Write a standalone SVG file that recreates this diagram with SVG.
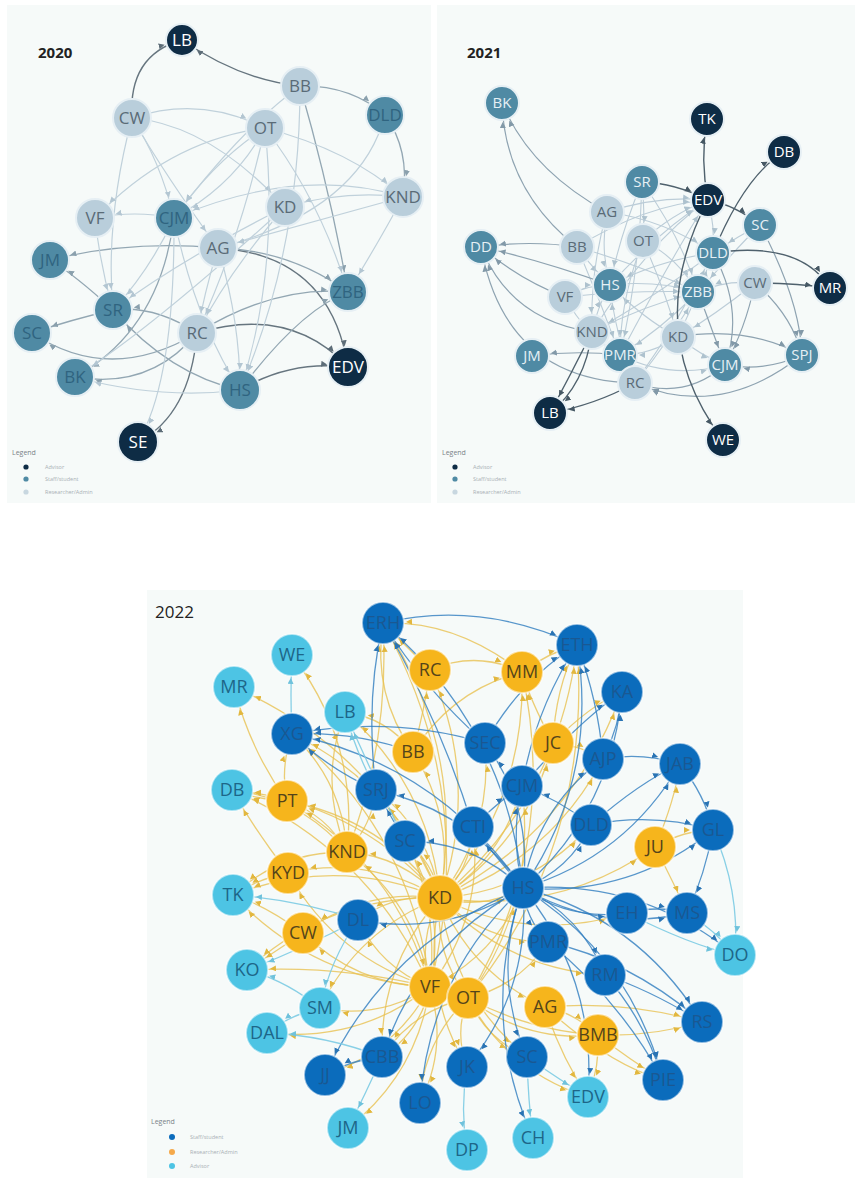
<svg xmlns="http://www.w3.org/2000/svg" width="856" height="1179" viewBox="0 0 856 1179">
<style>
.pn{fill:#f6faf9}
.yr{font-family:"Open Sans","Liberation Sans",sans-serif;fill:#222}
.lg{font-family:"Open Sans","Liberation Sans",sans-serif;font-size:7px;fill:#7a8288}
.li{font-family:"Open Sans","Liberation Sans",sans-serif;font-size:5.5px;fill:#a9b0b5}
.e20d{fill:none;stroke:#66757f;stroke-width:1.4;marker-end:url(#a20d)}
.e20s{fill:none;stroke:#66757f;stroke-width:1.4;marker-end:url(#a20s)}
.e20m{fill:none;stroke:#93a7b3;stroke-width:1.3;marker-end:url(#a20m)}
.e20l{fill:none;stroke:#c0d1db;stroke-width:1.2;marker-end:url(#a20l)}
.e21d{fill:none;stroke:#4f616d;stroke-width:1.4;marker-end:url(#a21d)}
.e21m{fill:none;stroke:#8ea3b1;stroke-width:1.2;marker-end:url(#a21m)}
.e21l{fill:none;stroke:#bccdd8;stroke-width:1.1;marker-end:url(#a21l)}
.e22y{fill:none;stroke:#e8c252;stroke-width:1.3;stroke-opacity:.8;marker-end:url(#a22y)}
.e22b{fill:none;stroke:#2f7dbf;stroke-width:1.3;stroke-opacity:.8;marker-end:url(#a22b)}
.e22c{fill:none;stroke:#7ccbe3;stroke-width:1.3;stroke-opacity:.9;marker-end:url(#a22c)}
.n20 circle,.n21 circle{stroke:#e6eff4;stroke-width:2}
.n20 text{font-family:"Open Sans","Liberation Sans",sans-serif;font-size:17px;text-anchor:middle}
.n21 text{font-family:"Open Sans","Liberation Sans",sans-serif;font-size:15px;text-anchor:middle}
.n22 circle{stroke:#ffffff;stroke-opacity:.55;stroke-width:2}
.n22 text{font-family:"Open Sans","Liberation Sans",sans-serif;font-size:18px;text-anchor:middle}
.adv circle{fill:#0e2c45}.adv text{fill:#ffffff}
.stf circle{fill:#4f8aa4}.stf text{fill:#2f6480}
.res circle{fill:#b9cedb}.res text{fill:#5a6b77}
.n21.stf text{fill:#e6f0f5}
.b22 circle{fill:#0b6cbc}.b22 text{fill:#1a5892}
.y22 circle{fill:#f6b51c}.y22 text{fill:#54441a}
.c22 circle{fill:#4dc4e4}.c22 text{fill:#1d6688}
</style>
<defs>
<marker id="a20d" markerUnits="userSpaceOnUse" markerWidth="7" markerHeight="7" refX="27" refY="3" orient="auto"><path d="M0,0L6,3L0,6z" fill="#5d6d78"/></marker>
<marker id="a20s" markerUnits="userSpaceOnUse" markerWidth="7" markerHeight="7" refX="24" refY="3" orient="auto"><path d="M0,0L6,3L0,6z" fill="#5d6d78"/></marker>
<marker id="a20m" markerUnits="userSpaceOnUse" markerWidth="7" markerHeight="7" refX="27" refY="3" orient="auto"><path d="M0,0L6,3L0,6z" fill="#8aa0ad"/></marker>
<marker id="a20l" markerUnits="userSpaceOnUse" markerWidth="7" markerHeight="7" refX="27" refY="3" orient="auto"><path d="M0,0L6,3L0,6z" fill="#b3c6d2"/></marker>
<marker id="a21d" markerUnits="userSpaceOnUse" markerWidth="7" markerHeight="7" refX="25" refY="3" orient="auto"><path d="M0,0L6,3L0,6z" fill="#465864"/></marker>
<marker id="a21m" markerUnits="userSpaceOnUse" markerWidth="7" markerHeight="7" refX="25" refY="3" orient="auto"><path d="M0,0L6,3L0,6z" fill="#8299a8"/></marker>
<marker id="a21l" markerUnits="userSpaceOnUse" markerWidth="7" markerHeight="7" refX="25" refY="3" orient="auto"><path d="M0,0L6,3L0,6z" fill="#aec2ce"/></marker>
<marker id="a22y" markerUnits="userSpaceOnUse" markerWidth="7" markerHeight="7" refX="29" refY="3" orient="auto"><path d="M0,0L6,3L0,6z" fill="#e2b73e"/></marker>
<marker id="a22b" markerUnits="userSpaceOnUse" markerWidth="7" markerHeight="7" refX="29" refY="3" orient="auto"><path d="M0,0L6,3L0,6z" fill="#2a74b4"/></marker>
<marker id="a22c" markerUnits="userSpaceOnUse" markerWidth="7" markerHeight="7" refX="29" refY="3" orient="auto"><path d="M0,0L6,3L0,6z" fill="#6fc2dc"/></marker>
</defs>
<rect width="856" height="1179" fill="#ffffff"/>
<rect class="pn" x="7" y="5" width="424" height="498"/>
<rect class="pn" x="437" y="5" width="418" height="498"/>
<rect class="pn" x="147" y="590" width="596" height="588"/>
<text class="yr" x="38" y="58" font-size="15" font-weight="bold">2020</text>
<text class="yr" x="467" y="58" font-size="15" font-weight="bold">2021</text>
<text class="yr" x="155" y="618" font-size="17">2022</text>

<g id="connectors">
<g id="edges-2020">
<g class="e20s">
<path d="M132 118Q128 55 182 40"/>
<path d="M300 86Q240 80 182 40"/>
</g>
<g class="e20d">
<path d="M218 248Q330 255 348 367"/>
<path d="M197 333Q290 305 348 367"/>
<path d="M240 390Q290 360 348 367"/>
<path d="M197 333Q190 415 138 442"/>
</g>
<g class="e20m">
<path d="M197 333Q155 305 113 310"/>
<path d="M197 333Q110 385 32 333"/>
<path d="M197 333Q150 390 75 377"/>
<path d="M240 390Q170 375 113 310"/>
<path d="M113 310Q75 275 50 260"/>
<path d="M113 310Q70 320 32 333"/>
<path d="M218 248Q130 240 50 260"/>
<path d="M174 218Q160 330 75 377"/>
<path d="M300 86Q350 85 385 115"/>
<path d="M385 115Q410 150 403 197"/>
<path d="M240 390Q300 310 348 292"/>
<path d="M197 333Q275 285 348 292"/>
<path d="M218 248Q290 250 348 292"/>
<path d="M300 86Q330 190 348 292"/>
</g>
<g class="e20l">
<path d="M132 118Q160 160 174 218"/>
<path d="M265 128Q215 160 174 218"/>
<path d="M265 128Q235 185 174 218"/>
<path d="M403 197Q300 165 174 218"/>
<path d="M132 118Q200 95 265 128"/>
<path d="M132 118Q210 125 285 207"/>
<path d="M132 118Q105 220 113 310"/>
<path d="M132 118Q165 175 218 248"/>
<path d="M174 218Q135 210 95 218"/>
<path d="M265 128Q170 140 95 218"/>
<path d="M403 197Q345 190 285 207"/>
<path d="M385 115Q360 210 218 248"/>
<path d="M265 128Q240 240 197 333"/>
<path d="M285 207Q230 270 197 333"/>
<path d="M218 248Q205 290 197 333"/>
<path d="M218 248Q240 320 240 390"/>
<path d="M174 218Q195 320 240 390"/>
<path d="M265 128Q280 270 240 390"/>
<path d="M174 218Q150 270 113 310"/>
<path d="M285 207Q180 260 113 310"/>
<path d="M95 218Q100 265 113 310"/>
<path d="M174 218Q175 380 138 442"/>
<path d="M300 86Q240 130 174 218"/>
<path d="M265 128Q350 150 403 197"/>
<path d="M285 207Q150 330 75 377"/>
<path d="M265 128Q320 200 348 292"/>
<path d="M403 197Q380 240 348 292"/>
<path d="M403 197Q320 220 218 248"/>
<path d="M240 390Q160 400 75 377"/>
<path d="M300 86Q300 250 240 390"/>
</g>
</g>
<g id="edges-2021">
<g class="e21l">
<path d="M607 212Q660 195 708 200"/>
<path d="M643 241Q670 215 708 200"/>
<path d="M577 247Q645 205 708 200"/>
<path d="M610 285Q660 230 708 200"/>
<path d="M592 332Q650 240 708 200"/>
<path d="M620 355Q670 260 708 200"/>
<path d="M642 182Q620 235 610 285"/>
<path d="M642 182Q640 270 620 355"/>
<path d="M642 182Q645 210 643 241"/>
<path d="M643 241Q675 255 698 292"/>
<path d="M610 285Q655 280 698 292"/>
<path d="M678 337Q645 320 610 285"/>
<path d="M678 337Q650 355 620 355"/>
<path d="M698 292Q660 330 620 355"/>
<path d="M713 253Q660 260 610 285"/>
<path d="M713 253Q650 300 592 332"/>
<path d="M760 225Q735 250 698 292"/>
<path d="M760 225Q740 235 713 253"/>
<path d="M755 283Q725 280 698 292"/>
<path d="M755 283Q715 315 678 337"/>
<path d="M565 297Q585 285 610 285"/>
<path d="M577 247Q590 265 610 285"/>
<path d="M607 212Q600 250 610 285"/>
<path d="M643 241Q620 300 620 355"/>
<path d="M592 332Q598 305 610 285"/>
<path d="M635 383Q615 335 610 285"/>
<path d="M565 297Q585 335 620 355"/>
<path d="M592 332Q645 305 698 292"/>
<path d="M607 212Q665 220 713 253"/>
<path d="M577 247Q640 265 698 292"/>
<path d="M643 241Q665 290 678 337"/>
<path d="M635 383Q670 340 698 292"/>
<path d="M635 383Q680 320 713 253"/>
<path d="M565 297Q635 290 698 292"/>
<path d="M642 182Q680 235 698 292"/>
<path d="M607 212Q590 270 592 332"/>
<path d="M577 247Q600 300 620 355"/>
<path d="M708 200Q715 225 713 253"/>
<path d="M678 337Q700 290 713 253"/>
<path d="M620 355Q670 380 725 365"/>
<path d="M678 337Q700 355 725 365"/>
</g>
<g class="e21m">
<path d="M802 355Q765 372 725 365"/>
<path d="M698 292Q712 330 725 365"/>
<path d="M713 253Q745 310 725 365"/>
<path d="M755 283Q792 315 802 355"/>
<path d="M678 337Q745 325 802 355"/>
<path d="M755 283Q745 330 725 365"/>
<path d="M620 355Q575 350 532 356"/>
<path d="M607 212Q530 170 502 103"/>
<path d="M577 247Q505 190 502 103"/>
<path d="M577 247Q530 240 481 247"/>
<path d="M565 297Q520 280 481 247"/>
<path d="M592 332Q510 320 481 247"/>
<path d="M610 285Q540 260 481 247"/>
<path d="M635 383Q505 380 481 247"/>
<path d="M802 355Q720 420 635 383"/>
<path d="M725 365Q685 400 635 383"/>
<path d="M760 225Q800 300 802 355"/>
</g>
<g class="e21d">
<path d="M708 200Q700 160 707 119"/>
<path d="M713 253Q745 175 784 152"/>
<path d="M592 332Q585 385 550 413"/>
<path d="M592 332Q572 372 550 413"/>
<path d="M635 383Q595 405 550 413"/>
<path d="M708 200Q640 330 723 440"/>
<path d="M642 182Q675 183 708 200"/>
<path d="M755 283Q795 283 830 288"/>
<path d="M713 253Q800 240 830 288"/>
<path d="M708 200Q735 205 760 225"/>
</g>
</g>
<g id="edges-2022">
<g class="e22y">
<path d="M440 898Q466 749 383 623"/>
<path d="M440 898Q481 782 430 670"/>
<path d="M440 898Q526 801 522 672"/>
<path d="M440 898Q456 820 413 752"/>
<path d="M440 898Q399 786 292 734"/>
<path d="M440 898Q383 819 287 801"/>
<path d="M440 898Q403 856 347 852"/>
<path d="M440 898Q369 855 288 873"/>
<path d="M440 898Q337 855 233 895"/>
<path d="M440 898Q364 888 303 933"/>
<path d="M440 898Q395 893 358 920"/>
<path d="M440 898Q329 895 247 970"/>
<path d="M440 898Q358 929 320 1008"/>
<path d="M440 898Q434 862 405 841"/>
<path d="M440 898Q430 831 376 790"/>
<path d="M440 898Q471 869 473 827"/>
<path d="M440 898Q493 829 485 743"/>
<path d="M440 898Q527 843 553 743"/>
<path d="M440 898Q503 858 522 786"/>
<path d="M440 898Q530 892 591 825"/>
<path d="M440 898Q558 915 655 847"/>
<path d="M440 898Q483 910 523 888"/>
<path d="M440 898Q530 943 627 913"/>
<path d="M440 898Q485 942 548 942"/>
<path d="M440 898Q507 969 605 975"/>
<path d="M440 898Q471 973 545 1007"/>
<path d="M440 898Q417 940 430 987"/>
<path d="M440 898Q434 954 468 998"/>
<path d="M440 898Q379 966 382 1057"/>
<path d="M440 898Q420 988 467 1067"/>
<path d="M440 898Q430 786 345 712"/>
<path d="M440 898Q559 799 577 645"/>
<path d="M440 898Q358 802 232 790"/>
<path d="M440 898Q379 751 234 687"/>
<path d="M440 898Q572 831 622 692"/>
<path d="M440 898Q549 861 603 759"/>
<path d="M440 898Q452 995 527 1057"/>
<path d="M430 987Q313 980 233 895"/>
<path d="M430 987Q338 965 247 970"/>
<path d="M430 987Q379 1020 320 1008"/>
<path d="M430 987Q358 1043 267 1033"/>
<path d="M430 987Q356 985 303 933"/>
<path d="M430 987Q336 958 288 873"/>
<path d="M430 987Q381 968 358 920"/>
<path d="M430 987Q420 1032 382 1057"/>
<path d="M430 987Q395 1052 325 1075"/>
<path d="M430 987Q448 1047 420 1103"/>
<path d="M430 987Q417 1074 348 1128"/>
<path d="M430 987Q370 849 232 790"/>
<path d="M430 987Q396 865 287 801"/>
<path d="M430 987Q416 903 347 852"/>
<path d="M430 987Q442 878 376 790"/>
<path d="M430 987Q412 833 292 734"/>
<path d="M430 987Q479 796 383 623"/>
<path d="M430 987Q496 956 523 888"/>
<path d="M430 987Q484 916 473 827"/>
<path d="M430 987Q447 909 405 841"/>
<path d="M468 998Q454 1032 467 1067"/>
<path d="M468 998Q486 1039 527 1057"/>
<path d="M468 998Q423 1041 420 1103"/>
<path d="M468 998Q508 1072 588 1097"/>
<path d="M468 998Q413 1010 382 1057"/>
<path d="M468 998Q526 1043 598 1035"/>
<path d="M468 998Q519 986 548 942"/>
<path d="M468 998Q537 903 522 786"/>
<path d="M468 998Q560 846 522 672"/>
<path d="M468 998Q593 843 577 645"/>
<path d="M468 998Q580 1057 702 1022"/>
<path d="M347 852Q343 782 292 734"/>
<path d="M347 852Q327 815 287 801"/>
<path d="M347 852Q318 782 345 712"/>
<path d="M347 852Q390 742 383 623"/>
<path d="M347 852Q302 798 232 790"/>
<path d="M347 852Q281 851 233 895"/>
<path d="M347 852Q359 743 292 655"/>
<path d="M347 852Q372 825 376 790"/>
<path d="M413 752Q372 694 383 623"/>
<path d="M413 752Q425 708 430 670"/>
<path d="M413 752Q452 690 522 672"/>
<path d="M413 752Q387 718 345 712"/>
<path d="M430 670Q476 650 522 672"/>
<path d="M430 670Q405 645 383 623"/>
<path d="M553 743Q590 705 622 692"/>
<path d="M553 743Q555 690 577 645"/>
<path d="M553 743Q530 700 522 672"/>
<path d="M553 743Q580 745 603 759"/>
<path d="M545 1007Q560 1055 588 1097"/>
<path d="M545 1007Q573 1012 598 1035"/>
<path d="M545 1007Q610 1065 663 1080"/>
<path d="M545 1007Q625 1000 702 1022"/>
<path d="M598 1035Q600 1066 588 1097"/>
<path d="M598 1035Q630 1060 663 1080"/>
<path d="M655 847Q684 830 713 830"/>
<path d="M655 847Q675 800 680 764"/>
<path d="M655 847Q675 885 687 913"/>
<path d="M287 801Q280 768 292 734"/>
<path d="M287 801Q258 800 232 790"/>
<path d="M287 801Q250 750 234 687"/>
<path d="M288 873Q260 878 233 895"/>
<path d="M288 873Q255 830 232 790"/>
<path d="M303 933Q265 905 233 895"/>
<path d="M303 933Q270 955 247 970"/>
<path d="M522 672Q550 652 577 645"/>
<path d="M522 672Q455 620 383 623"/>
</g>
<g class="e22b">
<path d="M413 752Q354 731 292 734"/>
<path d="M523 888Q599 777 577 645"/>
<path d="M523 888Q612 810 622 692"/>
<path d="M523 888Q626 857 680 764"/>
<path d="M523 888Q630 897 713 830"/>
<path d="M523 888Q600 933 687 913"/>
<path d="M523 888Q570 921 627 913"/>
<path d="M523 888Q525 918 548 942"/>
<path d="M523 888Q581 915 605 975"/>
<path d="M523 888Q639 919 702 1022"/>
<path d="M523 888Q631 956 663 1080"/>
<path d="M523 888Q642 879 735 955"/>
<path d="M523 888Q570 870 591 825"/>
<path d="M523 888Q537 807 603 759"/>
<path d="M523 888Q510 837 522 786"/>
<path d="M523 888Q533 808 485 743"/>
<path d="M523 888Q490 850 473 827"/>
<path d="M523 888Q473 841 405 841"/>
<path d="M523 888Q469 810 376 790"/>
<path d="M523 888Q438 765 292 734"/>
<path d="M523 888Q506 728 383 623"/>
<path d="M523 888Q447 937 358 920"/>
<path d="M523 888Q419 944 382 1057"/>
<path d="M523 888Q531 989 467 1067"/>
<path d="M523 888Q491 973 527 1057"/>
<path d="M523 888Q429 975 420 1103"/>
<path d="M523 888Q387 942 325 1075"/>
<path d="M523 888Q597 980 588 1097"/>
<path d="M523 888Q478 1015 533 1138"/>
<path d="M591 825Q652 812 713 830"/>
<path d="M591 825Q640 782 680 764"/>
<path d="M603 759Q642 752 680 764"/>
<path d="M603 759Q620 725 622 692"/>
<path d="M603 759Q598 700 577 645"/>
<path d="M522 786Q535 710 577 645"/>
<path d="M522 786Q580 720 622 692"/>
<path d="M485 743Q520 680 577 645"/>
<path d="M485 743Q425 690 383 623"/>
<path d="M485 743Q390 715 292 734"/>
<path d="M376 790Q330 770 292 734"/>
<path d="M376 790Q365 700 383 623"/>
<path d="M473 827Q440 720 383 623"/>
<path d="M383 623Q480 600 577 645"/>
<path d="M680 764Q705 795 713 830"/>
<path d="M713 830Q705 875 687 913"/>
<path d="M627 913Q657 905 687 913"/>
<path d="M548 942Q630 960 702 1022"/>
<path d="M548 942Q620 1000 663 1080"/>
<path d="M605 975Q645 1020 663 1080"/>
<path d="M605 975Q650 990 702 1022"/>
<path d="M382 1057Q350 1060 325 1075"/>
<path d="M405 841Q390 815 376 790"/>
<path d="M591 825Q560 800 522 786"/>
<path d="M473 827Q500 800 522 786"/>
</g>
<g class="e22c">
<path d="M292 734Q290 695 292 655"/>
<path d="M376 790Q355 750 345 712"/>
<path d="M405 841Q370 770 345 712"/>
<path d="M627 913Q690 945 735 955"/>
<path d="M687 913Q715 930 735 955"/>
<path d="M713 830Q740 890 735 955"/>
<path d="M320 1008Q285 980 247 970"/>
<path d="M320 1008Q290 1015 267 1033"/>
<path d="M382 1057Q325 1035 267 1033"/>
<path d="M382 1057Q365 1095 348 1128"/>
<path d="M467 1067Q460 1110 467 1150"/>
<path d="M527 1057Q528 1100 533 1138"/>
<path d="M527 1057Q560 1080 588 1097"/>
<path d="M358 920Q300 900 233 895"/>
<path d="M358 920Q300 950 247 970"/>
<path d="M358 920Q330 960 320 1008"/>
</g>
</g>
</g>

<g id="nodes-2020">
<g id="n20-BB" class="n20 res"><circle cx="300" cy="86" r="19"/><text x="300" y="92">BB</text></g>
<g id="n20-CW" class="n20 res"><circle cx="132" cy="118" r="19"/><text x="132" y="124">CW</text></g>
<g id="n20-OT" class="n20 res"><circle cx="265" cy="128" r="19"/><text x="265" y="134">OT</text></g>
<g id="n20-KND" class="n20 res"><circle cx="403" cy="197" r="20"/><text x="403" y="203">KND</text></g>
<g id="n20-KD" class="n20 res"><circle cx="285" cy="207" r="19"/><text x="285" y="213">KD</text></g>
<g id="n20-VF" class="n20 res"><circle cx="95" cy="218" r="19"/><text x="95" y="224">VF</text></g>
<g id="n20-AG" class="n20 res"><circle cx="218" cy="248" r="19"/><text x="218" y="254">AG</text></g>
<g id="n20-RC" class="n20 res"><circle cx="197" cy="333" r="19"/><text x="197" y="339">RC</text></g>
<g id="n20-DLD" class="n20 stf"><circle cx="385" cy="115" r="19"/><text x="385" y="121">DLD</text></g>
<g id="n20-CJM" class="n20 stf"><circle cx="174" cy="218" r="19"/><text x="174" y="224">CJM</text></g>
<g id="n20-JM" class="n20 stf"><circle cx="50" cy="260" r="19"/><text x="50" y="266">JM</text></g>
<g id="n20-ZBB" class="n20 stf"><circle cx="348" cy="292" r="19"/><text x="348" y="298">ZBB</text></g>
<g id="n20-SR" class="n20 stf"><circle cx="113" cy="310" r="19"/><text x="113" y="316">SR</text></g>
<g id="n20-SC" class="n20 stf"><circle cx="32" cy="333" r="19"/><text x="32" y="339">SC</text></g>
<g id="n20-BK" class="n20 stf"><circle cx="75" cy="377" r="19"/><text x="75" y="383">BK</text></g>
<g id="n20-HS" class="n20 stf"><circle cx="240" cy="390" r="20"/><text x="240" y="396">HS</text></g>
<g id="n20-LB" class="n20 adv"><circle cx="182" cy="40" r="16"/><text x="182" y="46">LB</text></g>
<g id="n20-EDV" class="n20 adv"><circle cx="348" cy="367" r="20"/><text x="348" y="373">EDV</text></g>
<g id="n20-SE" class="n20 adv"><circle cx="138" cy="442" r="20"/><text x="138" y="448">SE</text></g>
</g>
<g id="legend-2020">
<text class="lg" x="12" y="455">Legend</text>
<circle cx="26" cy="467" r="2.6" fill="#0e2c45"/><text class="li" x="45" y="469">Advisor</text>
<circle cx="26" cy="479" r="2.6" fill="#4f8aa4"/><text class="li" x="45" y="481">Staff/student</text>
<circle cx="26" cy="492" r="2.6" fill="#c8d7e0"/><text class="li" x="45" y="494">Researcher/Admin</text>
</g>

<g id="nodes-2021">
<g id="n21-AG" class="n21 res"><circle cx="607" cy="212" r="17"/><text x="607" y="217">AG</text></g>
<g id="n21-OT" class="n21 res"><circle cx="643" cy="241" r="17"/><text x="643" y="246">OT</text></g>
<g id="n21-BB" class="n21 res"><circle cx="577" cy="247" r="17"/><text x="577" y="252">BB</text></g>
<g id="n21-CW" class="n21 res"><circle cx="755" cy="283" r="17"/><text x="755" y="288">CW</text></g>
<g id="n21-VF" class="n21 res"><circle cx="565" cy="297" r="17"/><text x="565" y="302">VF</text></g>
<g id="n21-KND" class="n21 res"><circle cx="592" cy="332" r="17"/><text x="592" y="337">KND</text></g>
<g id="n21-KD" class="n21 res"><circle cx="678" cy="337" r="17"/><text x="678" y="342">KD</text></g>
<g id="n21-BK" class="n21 stf"><circle cx="502" cy="103" r="17"/><text x="502" y="108">BK</text></g>
<g id="n21-SR" class="n21 stf"><circle cx="642" cy="182" r="17"/><text x="642" y="187">SR</text></g>
<g id="n21-SC" class="n21 stf"><circle cx="760" cy="225" r="17"/><text x="760" y="230">SC</text></g>
<g id="n21-DD" class="n21 stf"><circle cx="481" cy="247" r="17"/><text x="481" y="252">DD</text></g>
<g id="n21-DLD" class="n21 stf"><circle cx="713" cy="253" r="17"/><text x="713" y="258">DLD</text></g>
<g id="n21-HS" class="n21 stf"><circle cx="610" cy="285" r="17"/><text x="610" y="290">HS</text></g>
<g id="n21-ZBB" class="n21 stf"><circle cx="698" cy="292" r="17"/><text x="698" y="297">ZBB</text></g>
<g id="n21-JM" class="n21 stf"><circle cx="532" cy="356" r="17"/><text x="532" y="361">JM</text></g>
<g id="n21-PMR" class="n21 stf"><circle cx="620" cy="355" r="17"/><text x="620" y="360">PMR</text></g>
<g id="n21-CJM" class="n21 stf"><circle cx="725" cy="365" r="17"/><text x="725" y="370">CJM</text></g>
<g id="n21-SPJ" class="n21 stf"><circle cx="802" cy="355" r="17"/><text x="802" y="360">SPJ</text></g>
<g id="n21-RC" class="n21 res"><circle cx="635" cy="383" r="17"/><text x="635" y="388">RC</text></g>
<g id="n21-TK" class="n21 adv"><circle cx="707" cy="119" r="17"/><text x="707" y="124">TK</text></g>
<g id="n21-DB" class="n21 adv"><circle cx="784" cy="152" r="17"/><text x="784" y="157">DB</text></g>
<g id="n21-EDV" class="n21 adv"><circle cx="708" cy="200" r="17"/><text x="708" y="205">EDV</text></g>
<g id="n21-MR" class="n21 adv"><circle cx="830" cy="288" r="17"/><text x="830" y="293">MR</text></g>
<g id="n21-LB" class="n21 adv"><circle cx="550" cy="413" r="17"/><text x="550" y="418">LB</text></g>
<g id="n21-WE" class="n21 adv"><circle cx="723" cy="440" r="17"/><text x="723" y="445">WE</text></g>
</g>
<g id="legend-2021">
<text class="lg" x="442" y="455">Legend</text>
<circle cx="455" cy="467" r="2.6" fill="#0e2c45"/><text class="li" x="473" y="469">Advisor</text>
<circle cx="455" cy="479" r="2.6" fill="#4f8aa4"/><text class="li" x="473" y="481">Staff/student</text>
<circle cx="455" cy="492" r="2.6" fill="#c8d7e0"/><text class="li" x="473" y="494">Researcher/Admin</text>
</g>

<g id="nodes-2022">
<g id="n22-ERH" class="n22 b22"><circle cx="383" cy="623" r="21"/><text x="383" y="629">ERH</text></g>
<g id="n22-WE" class="n22 c22"><circle cx="292" cy="655" r="21"/><text x="292" y="661">WE</text></g>
<g id="n22-MR" class="n22 c22"><circle cx="234" cy="687" r="21"/><text x="234" y="693">MR</text></g>
<g id="n22-RC" class="n22 y22"><circle cx="430" cy="670" r="21"/><text x="430" y="676">RC</text></g>
<g id="n22-LB" class="n22 c22"><circle cx="345" cy="712" r="21"/><text x="345" y="718">LB</text></g>
<g id="n22-XG" class="n22 b22"><circle cx="292" cy="734" r="21"/><text x="292" y="740">XG</text></g>
<g id="n22-BB" class="n22 y22"><circle cx="413" cy="752" r="21"/><text x="413" y="758">BB</text></g>
<g id="n22-DB" class="n22 c22"><circle cx="232" cy="790" r="21"/><text x="232" y="796">DB</text></g>
<g id="n22-PT" class="n22 y22"><circle cx="287" cy="801" r="21"/><text x="287" y="807">PT</text></g>
<g id="n22-SRJ" class="n22 b22"><circle cx="376" cy="790" r="21"/><text x="376" y="796">SRJ</text></g>
<g id="n22-SC1" class="n22 b22"><circle cx="405" cy="841" r="21"/><text x="405" y="847">SC</text></g>
<g id="n22-KND" class="n22 y22"><circle cx="347" cy="852" r="21"/><text x="347" y="858">KND</text></g>
<g id="n22-KYD" class="n22 y22"><circle cx="288" cy="873" r="21"/><text x="288" y="879">KYD</text></g>
<g id="n22-ETH" class="n22 b22"><circle cx="577" cy="645" r="21"/><text x="577" y="651">ETH</text></g>
<g id="n22-MM" class="n22 y22"><circle cx="522" cy="672" r="21"/><text x="522" y="678">MM</text></g>
<g id="n22-KA" class="n22 b22"><circle cx="622" cy="692" r="21"/><text x="622" y="698">KA</text></g>
<g id="n22-SEC" class="n22 b22"><circle cx="485" cy="743" r="21"/><text x="485" y="749">SEC</text></g>
<g id="n22-JC" class="n22 y22"><circle cx="553" cy="743" r="21"/><text x="553" y="749">JC</text></g>
<g id="n22-AJP" class="n22 b22"><circle cx="603" cy="759" r="21"/><text x="603" y="765">AJP</text></g>
<g id="n22-JAB" class="n22 b22"><circle cx="680" cy="764" r="21"/><text x="680" y="770">JAB</text></g>
<g id="n22-CJM" class="n22 b22"><circle cx="522" cy="786" r="21"/><text x="522" y="792">CJM</text></g>
<g id="n22-CTI" class="n22 b22"><circle cx="473" cy="827" r="21"/><text x="473" y="833">CTI</text></g>
<g id="n22-DLD" class="n22 b22"><circle cx="591" cy="825" r="21"/><text x="591" y="831">DLD</text></g>
<g id="n22-GL" class="n22 b22"><circle cx="713" cy="830" r="21"/><text x="713" y="836">GL</text></g>
<g id="n22-JU" class="n22 y22"><circle cx="655" cy="847" r="21"/><text x="655" y="853">JU</text></g>
<g id="n22-HS" class="n22 b22"><circle cx="523" cy="888" r="21"/><text x="523" y="894">HS</text></g>
<g id="n22-KD" class="n22 y22"><circle cx="440" cy="898" r="23"/><text x="440" y="904">KD</text></g>
<g id="n22-TK" class="n22 c22"><circle cx="233" cy="895" r="21"/><text x="233" y="901">TK</text></g>
<g id="n22-DL" class="n22 b22"><circle cx="358" cy="920" r="21"/><text x="358" y="926">DL</text></g>
<g id="n22-CW" class="n22 y22"><circle cx="303" cy="933" r="21"/><text x="303" y="939">CW</text></g>
<g id="n22-EH" class="n22 b22"><circle cx="627" cy="913" r="21"/><text x="627" y="919">EH</text></g>
<g id="n22-MS" class="n22 b22"><circle cx="687" cy="913" r="21"/><text x="687" y="919">MS</text></g>
<g id="n22-PMR" class="n22 b22"><circle cx="548" cy="942" r="21"/><text x="548" y="948">PMR</text></g>
<g id="n22-DO" class="n22 c22"><circle cx="735" cy="955" r="21"/><text x="735" y="961">DO</text></g>
<g id="n22-KO" class="n22 c22"><circle cx="247" cy="970" r="21"/><text x="247" y="976">KO</text></g>
<g id="n22-RM" class="n22 b22"><circle cx="605" cy="975" r="21"/><text x="605" y="981">RM</text></g>
<g id="n22-VF" class="n22 y22"><circle cx="430" cy="987" r="21"/><text x="430" y="993">VF</text></g>
<g id="n22-OT" class="n22 y22"><circle cx="468" cy="998" r="21"/><text x="468" y="1004">OT</text></g>
<g id="n22-AG" class="n22 y22"><circle cx="545" cy="1007" r="21"/><text x="545" y="1013">AG</text></g>
<g id="n22-SM" class="n22 c22"><circle cx="320" cy="1008" r="21"/><text x="320" y="1014">SM</text></g>
<g id="n22-RS" class="n22 b22"><circle cx="702" cy="1022" r="21"/><text x="702" y="1028">RS</text></g>
<g id="n22-DAL" class="n22 c22"><circle cx="267" cy="1033" r="21"/><text x="267" y="1039">DAL</text></g>
<g id="n22-BMB" class="n22 y22"><circle cx="598" cy="1035" r="21"/><text x="598" y="1041">BMB</text></g>
<g id="n22-CBB" class="n22 b22"><circle cx="382" cy="1057" r="21"/><text x="382" y="1063">CBB</text></g>
<g id="n22-SC2" class="n22 b22"><circle cx="527" cy="1057" r="21"/><text x="527" y="1063">SC</text></g>
<g id="n22-JK" class="n22 b22"><circle cx="467" cy="1067" r="21"/><text x="467" y="1073">JK</text></g>
<g id="n22-JJ" class="n22 b22"><circle cx="325" cy="1075" r="21"/><text x="325" y="1081">JJ</text></g>
<g id="n22-PIE" class="n22 b22"><circle cx="663" cy="1080" r="21"/><text x="663" y="1086">PIE</text></g>
<g id="n22-EDV" class="n22 c22"><circle cx="588" cy="1097" r="21"/><text x="588" y="1103">EDV</text></g>
<g id="n22-LO" class="n22 b22"><circle cx="420" cy="1103" r="21"/><text x="420" y="1109">LO</text></g>
<g id="n22-JM" class="n22 c22"><circle cx="348" cy="1128" r="21"/><text x="348" y="1134">JM</text></g>
<g id="n22-CH" class="n22 c22"><circle cx="533" cy="1138" r="21"/><text x="533" y="1144">CH</text></g>
<g id="n22-DP" class="n22 c22"><circle cx="467" cy="1150" r="21"/><text x="467" y="1156">DP</text></g>
</g>
<g id="legend-2022">
<text class="lg" x="151" y="1124">Legend</text>
<circle cx="172" cy="1137" r="3" fill="#0b6cbc"/><text class="li" x="190" y="1139">Staff/student</text>
<circle cx="172" cy="1152" r="3" fill="#f5a94a"/><text class="li" x="190" y="1154">Researcher/Admin</text>
<circle cx="172" cy="1166" r="3" fill="#4dc4e4"/><text class="li" x="190" y="1168">Advisor</text>
</g>
</svg>
